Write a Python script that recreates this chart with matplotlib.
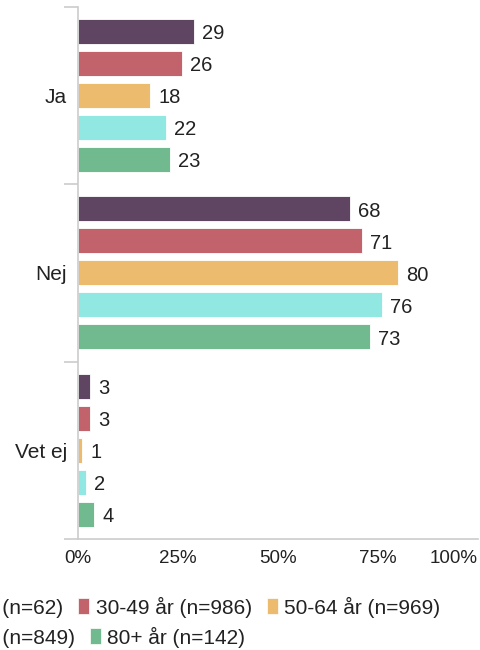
import matplotlib
matplotlib.use("Agg")
import matplotlib.pyplot as plt
from matplotlib.patches import Patch
import numpy as np

plt.rcParams['font.family'] = ['Liberation Sans', 'DejaVu Sans']

categories = ["Ja", "Nej", "Vet ej"]
series_names = ["18-29 år (n=62)", "30-49 år (n=986)", "50-64 år (n=969)",
                "65-79 år (n=849)", "80+ år (n=142)"]
values = {
    "18-29 år (n=62)":  [29, 68, 3],
    "30-49 år (n=986)": [26, 71, 3],
    "50-64 år (n=969)": [18, 80, 1],
    "65-79 år (n=849)": [22, 76, 2],
    "80+ år (n=142)":   [23, 73, 4],
}
colors = ["#5f4561", "#c2636c", "#ecbb6e", "#91e7e2", "#71b98f"]
xticks = [0, 25, 50, 75, 100]
xticklabels = ["0%", "25%", "50%", "75%", "100%"]

W, H = 481, 650
fig = plt.figure(figsize=(W / 100, H / 100), dpi=100)
ax = fig.add_axes([78 / W, 1 - 539 / H, 400 / W, (539 - 6.5) / H])

n = len(series_names)
spacing = 0.18
height = 0.141
y0 = np.arange(len(categories)) + 0.5
for i, name in enumerate(series_names):
    ys = y0 + (i - (n - 1) / 2) * spacing
    bars = ax.barh(ys, values[name], height=height, color=colors[i],
                   edgecolor="white", linewidth=0.6)
    for b, v in zip(bars, values[name]):
        ax.annotate(str(v), (b.get_width(), b.get_y() + b.get_height() / 2),
                    xytext=(6, -1.8), textcoords="offset points",
                    ha="left", va="center", fontsize=14.5, color="#222222")

ax.set_xlim(0, 100)
ax.set_ylim(len(categories), 0)
ax.set_xticks(xticks)
ax.set_xticklabels(xticklabels, fontsize=13.5, color="#222222")
ax.tick_params(axis="x", length=0, pad=8)
ax.get_xticklabels()[-1].set_horizontalalignment("right")

ax.set_yticks(np.arange(len(categories) + 1), minor=False)
ax.set_yticklabels([])
ax.tick_params(axis="y", which="major", length=10, color="#cccccc", width=1.2)
ax.set_yticks(y0, minor=True)
ax.set_yticklabels(categories, minor=True, fontsize=15, color="#222222")
ax.tick_params(axis="y", which="minor", length=0, pad=8)

for s in ["top", "right"]:
    ax.spines[s].set_visible(False)
ax.spines["left"].set_color("#cccccc")
ax.spines["bottom"].set_color("#cccccc")
ax.spines["left"].set_linewidth(1.2)
ax.spines["bottom"].set_linewidth(1.2)

handles = [Patch(facecolor=c, edgecolor="white", linewidth=0.5) for c in colors]
common = dict(frameon=False, fontsize=15, handlelength=0.52, handleheight=0.8,
              handletextpad=0.33, columnspacing=0.72, borderpad=0, borderaxespad=0,
              loc="center left", bbox_transform=fig.transFigure)
leg1 = fig.legend(handles[:3], series_names[:3], ncol=3,
                  bbox_to_anchor=(-99 / W, 1 - 607 / H), **common)
for t in leg1.get_texts():
    t.set_color("#222222")
leg2 = fig.legend(handles[3:], series_names[3:], ncol=2,
                  bbox_to_anchor=(-99 / W, 1 - 637 / H), **common)
for t in leg2.get_texts():
    t.set_color("#222222")

fig.savefig("out.png", dpi=100)
